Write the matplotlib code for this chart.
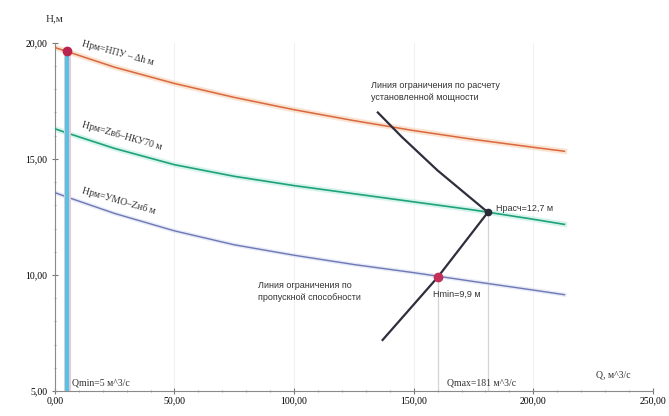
import matplotlib.pyplot as plt
from matplotlib.ticker import MultipleLocator, FuncFormatter

plt.rcParams['font.family'] = ['Liberation Serif', 'DejaVu Serif']

# расходы, м^3/с
Q = [0, 5, 25, 50, 75, 100, 125, 150, 175, 200, 213]
# напоры, м
H_top = [19.8, 19.63, 18.95, 18.25, 17.65, 17.12, 16.65, 16.22, 15.84, 15.5, 15.33]
H_mid = [16.3, 16.12, 15.45, 14.75, 14.25, 13.85, 13.5, 13.15, 12.8, 12.4, 12.18]
H_low = [13.55, 13.36, 12.65, 11.9, 11.3, 10.85, 10.45, 10.1, 9.72, 9.35, 9.15]

# линия ограничения по установленной мощности
Q_n = [135, 145, 160, 181]
H_n = [17.0, 15.95, 14.5, 12.7]
# линия ограничения по пропускной способности
Q_p = [181, 160, 137]
H_p = [12.7, 9.9, 7.2]

Q_min, Q_max = 5, 181
H_rasch, H_min = 12.7, 9.9
Q_hmin = 160
H_qmin = 19.63

fig = plt.figure(figsize=(6.69, 4.16), dpi=100)
ax = fig.add_axes([0.082, 0.06, 0.894, 0.837])

ax.set_xlim(0, 250)
ax.set_ylim(5, 20)
ax.xaxis.set_major_locator(MultipleLocator(50))
ax.xaxis.set_minor_locator(MultipleLocator(10))
ax.yaxis.set_major_locator(MultipleLocator(5))
ax.yaxis.set_minor_locator(MultipleLocator(1))
fmt = FuncFormatter(lambda v, p: ('%.2f' % v).replace('.', ','))
ax.xaxis.set_major_formatter(fmt)
ax.yaxis.set_major_formatter(fmt)
ax.tick_params(axis='both', which='major', labelsize=7, length=4, color='#777777', direction='inout')
ax.tick_params(axis='both', which='minor', length=2, color='#999999', direction='inout')
ax.tick_params(axis='x', pad=2)
for s in ['top', 'right']:
    ax.spines[s].set_visible(False)
for s in ['left', 'bottom']:
    ax.spines[s].set_color('#8a8a8a')
    ax.spines[s].set_linewidth(0.8)
ax.grid(True, axis='x', color='#f0f0f5', lw=0.8)

# кривые напоров
ax.plot(Q, H_top, color='#f6c9a8', lw=4, alpha=0.5, zorder=2)
ax.plot(Q, H_top, color='#d9683c', lw=1.1, zorder=3)
ax.plot(Q, H_mid, color='#bdeee0', lw=4, alpha=0.6, zorder=2)
ax.plot(Q, H_mid, color='#1fa27a', lw=1.2, zorder=3)
ax.plot(Q, H_low, color='#d8ddf2', lw=3, alpha=0.6, zorder=2)
ax.plot(Q, H_low, color='#6e78b4', lw=1.0, zorder=3)

# Qmin
ax.plot([Q_min, Q_min], [5, H_qmin], color='#f3c6cf', lw=5, zorder=3)
ax.plot([Q_min, Q_min], [5, H_qmin], color='#52c4e6', lw=3, zorder=4)

# опускные линии
ax.plot([Q_max, Q_max], [5, H_rasch], color='#d4d4dc', lw=0.9, zorder=1)
ax.plot([Q_hmin, Q_hmin], [5, H_min], color='#d4d4dc', lw=0.9, zorder=1)

# линии ограничения
ax.plot(Q_n, H_n, color='#2e2e3c', lw=1.6, zorder=5)
ax.plot(Q_p, H_p, color='#2e2e3c', lw=1.6, zorder=5)

ax.plot(Q_min, H_qmin, 'o', color='#b8244e', ms=6, zorder=6)
ax.plot(Q_hmin, H_min, 'o', color='#c2305a', ms=6, zorder=6)
ax.plot(Q_max, H_rasch, 'o', color='#2a2a36', ms=4.5, zorder=6)

# подписи кривых
ax.text(11, 19.55, 'Нрм=НПУ – Δh м', fontsize=7, rotation=-15, va='center', color='#333333')
ax.text(11, 16.0, 'Нрм=Zвб–НКУ70 м', fontsize=7, rotation=-16, va='center', color='#333333')
ax.text(11, 13.2, 'Нрм=УМО–Zнб м', fontsize=7, rotation=-16, va='center', color='#333333')

sans = ['Liberation Sans', 'DejaVu Sans']
ax.text(132, 17.9, 'Линия ограничения по расчету\nустановленной мощности', fontsize=6.5,
        family=sans, color='#333333', va='center', linespacing=1.4)
ax.text(184.5, 12.85, 'Нрасч=12,7 м', fontsize=6.5, family=sans, color='#333333', va='center')
ax.text(85, 9.3, 'Линия ограничения по\nпропускной способности', fontsize=6.5,
        family=sans, color='#333333', va='center', linespacing=1.4)
ax.text(158, 9.15, 'Нmin=9,9 м', fontsize=6.5, family=sans, color='#333333', va='center')

ax.text(7, 5.35, 'Qmin=5 м^3/с', fontsize=7, va='center', color='#333333')
ax.text(164, 5.35, 'Qmax=181 м^3/с', fontsize=7, va='center', color='#333333')
ax.text(226, 5.7, 'Q, м^3/с', fontsize=7, va='center', color='#333333')
fig.text(0.068, 0.955, 'H,м', fontsize=8, va='center', color='#333333')

fig.savefig('out.png', dpi=100)
